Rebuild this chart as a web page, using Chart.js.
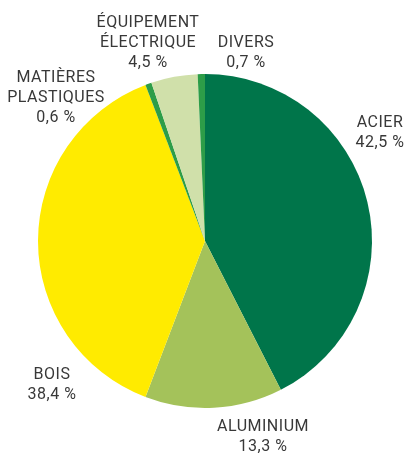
<!DOCTYPE html>
<html>
<head>
<meta charset="utf-8">
<script src="https://cdn.jsdelivr.net/npm/chart.js@4/dist/chart.umd.min.js"></script>
<style>
  html, body { margin: 0; padding: 0; background: #fff; }
  #wrap { position: relative; width: 406px; height: 453px; }
</style>
</head>
<body>
<div id="wrap"><canvas id="c" width="406" height="453"></canvas></div>
<script>
// Waste composition (%), clockwise from 12 o'clock
const categories = ['ACIER', 'ALUMINIUM', 'BOIS', 'MATIÈRES PLASTIQUES', 'ÉQUIPEMENT ÉLECTRIQUE', 'DIVERS'];
const shares = [42.5, 13.3, 38.4, 0.6, 4.5, 0.7];
const labelLines = [
  ['ACIER'],
  ['ALUMINIUM'],
  ['BOIS'],
  ['MATIÈRES', 'PLASTIQUES'],
  ['ÉQUIPEMENT', 'ÉLECTRIQUE'],
  ['DIVERS'],
];
const sliceColors = ['#00754a', '#a4c25a', '#ffeb00', '#2d9d48', '#d0e0aa', '#2d9d48'];

// where each label block sits (center x, center y of first line)
const labelAnchors = [
  { x: 380, y: 121 },
  { x: 263, y: 425 },
  { x: 52, y: 373 },
  { x: 56, y: 76 },
  { x: 148, y: 21 },
  { x: 246, y: 41 },
];

const fmt = v => v.toFixed(1).replace('.', ',') + ' %';

const labelPlugin = {
  id: 'outsideLabels',
  afterDraw(chart) {
    const ctx = chart.ctx;
    const lineH = 20;
    ctx.save();
    ctx.font = '16px Roboto, "DejaVu Sans", sans-serif';
    ctx.letterSpacing = '0.5px';
    ctx.fillStyle = '#383838';
    ctx.textAlign = 'center';
    ctx.textBaseline = 'alphabetic';
    shares.forEach((v, i) => {
      const lines = labelLines[i].concat([fmt(v)]);
      const a = labelAnchors[i];
      lines.forEach((t, j) => {
        ctx.fillText(t, a.x, a.y + j * lineH + 5.7);
      });
    });
    ctx.restore();
  }
};

new Chart(document.getElementById('c'), {
  type: 'pie',
  data: {
    labels: categories,
    datasets: [{
      data: shares,
      backgroundColor: sliceColors,
      borderWidth: 0,
    }]
  },
  plugins: [labelPlugin],
  options: {
    responsive: false,
    animation: false,
    layout: { padding: { left: 38, right: 34, top: 74, bottom: 45 } },
    plugins: {
      legend: { display: false },
      tooltip: { enabled: false },
    },
  },
});
</script>
</body>
</html>
